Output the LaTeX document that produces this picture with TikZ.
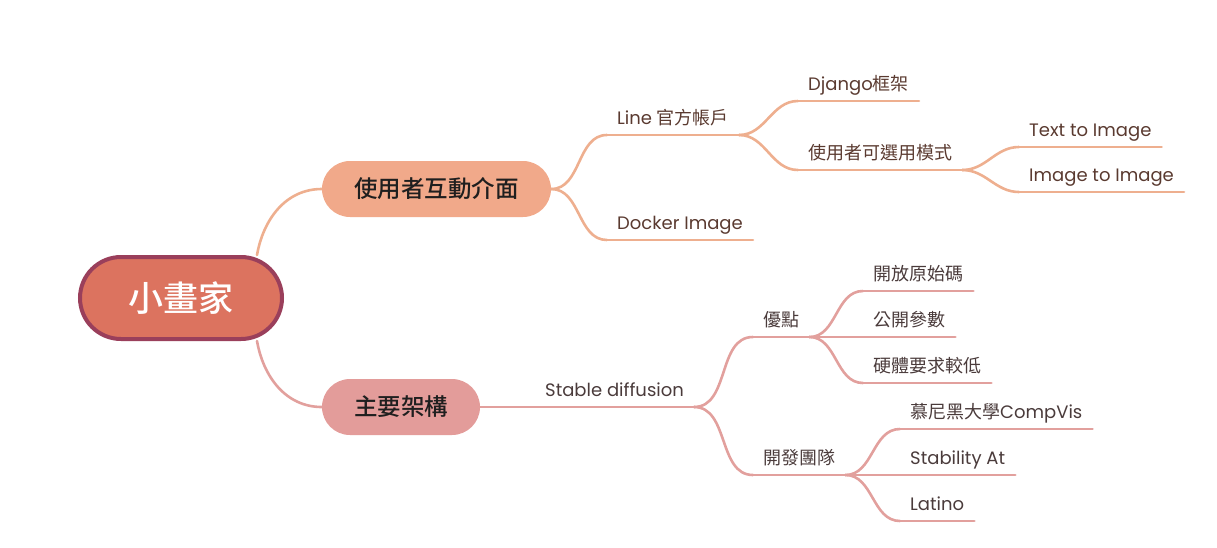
\documentclass[tikz,border=0pt]{standalone}
\usepackage{fontspec}
\setmainfont{Poppins}
\newfontfamily\cjk{Noto Sans CJK TC}
\newfontfamily\cjkmed{Noto Sans CJK TC Medium}
\newcommand{\zh}[1]{{\cjk #1}}
\usepackage{tikz}
\usetikzlibrary{backgrounds}

\definecolor{rootfill}{HTML}{DC735F}
\definecolor{rootline}{HTML}{9A3F5B}
\definecolor{uifill}{HTML}{F1A98A}
\definecolor{archfill}{HTML}{E39C9A}
\definecolor{lineA}{HTML}{EEAF8F}
\definecolor{lineB}{HTML}{E2A09D}
\definecolor{textA}{HTML}{5A3A30}
\definecolor{textB}{HTML}{4A3B3B}

\begin{document}
\begin{tikzpicture}[x=1pt,y=1pt,
    root/.style={rounded corners=41pt, minimum width=202pt, minimum height=82pt,
      fill=rootfill, draw=rootline, line width=4pt, text=white,
      font={\cjkmed\fontsize{35}{40}\selectfont}},
    topic/.style={rounded corners=28pt, minimum height=56pt, text=black!88,
      font={\cjkmed\fontsize{23.5}{28}\selectfont}},
    leaf/.style={anchor=south west, inner xsep=10pt, inner ysep=5.5pt,
      text height=14pt, text depth=5pt, font={\fontsize{18}{22}\selectfont}},
    linkA/.style={draw=lineA, line width=2.6pt, line cap=round},
    linkB/.style={draw=lineB, line width=2.6pt, line cap=round},
    branch/.style={out=0, in=180}]
  \useasboundingbox (0,0) rectangle (1217,-547);

  % main nodes
  \node[root] (painter) at (181,-298) {小畫家};
  \node[topic, fill=uifill, minimum width=229pt] (ui) at (436.5,-189) {使用者互動介面};
  \node[topic, fill=archfill, minimum width=158pt] (arch) at (401,-407) {主要架構};

  % interface branch
  \node[leaf, text=textA] (line) at (607,-135) {Line \zh{官方帳戶}};
  \node[leaf, text=textA] (docker) at (607,-240) {Docker Image};
  \node[leaf, text=textA] (django) at (798,-101) {Django\zh{框架}};
  \node[leaf, text=textA] (mode) at (798,-170) {\zh{使用者可選用模式}};
  \node[leaf, text=textA] (t2i) at (1019,-147) {Text to Image};
  \node[leaf, text=textA] (i2i) at (1019,-192) {Image to Image};

  % architecture branch
  \node[leaf, text=textB] (sd) at (535,-407) {Stable diffusion};
  \node[leaf, text=textB] (pros) at (753,-337) {\zh{優點}};
  \node[leaf, text=textB] (team) at (753,-475) {\zh{開發團隊}};
  \node[leaf, text=textB] (open) at (863,-291) {\zh{開放原始碼}};
  \node[leaf, text=textB] (params) at (863,-337) {\zh{公開參數}};
  \node[leaf, text=textB] (hw) at (863,-383) {\zh{硬體要求較低}};
  \node[leaf, text=textB] (lmu) at (900,-429) {\zh{慕尼黑大學}CompVis};
  \node[leaf, text=textB] (stab) at (900,-475) {Stability At};
  \node[leaf, text=textB] (latino) at (900,-521) {Latino};

  \begin{scope}[on background layer]
    \path[linkA] ([xshift=-27pt]painter.north east) edge[out=80, in=180] (ui.west);
    \path[linkB] ([xshift=-27pt]painter.south east) edge[out=-80, in=180] (arch.west);

    \path[linkA] (ui.east) edge[branch] (line.south west)
                           edge[branch] (docker.south west);
    \path[linkA] (line.south east) edge[branch] (django.south west)
                                   edge[branch] (mode.south west);
    \path[linkA] (mode.south east) edge[branch] (t2i.south west)
                                   edge[branch] (i2i.south west);

    \path[linkB] (arch.east) edge[branch] (sd.south west);
    \path[linkB] (sd.south east) edge[branch] (pros.south west)
                                 edge[branch] (team.south west);
    \path[linkB] (pros.south east) edge[branch] (open.south west)
                                   edge[branch] (params.south west)
                                   edge[branch] (hw.south west);
    \path[linkB] (team.south east) edge[branch] (lmu.south west)
                                   edge[branch] (stab.south west)
                                   edge[branch] (latino.south west);

    % underlines
    \foreach \n in {line,docker,django,mode,t2i,i2i}
      \draw[linkA] (\n.south west) -- (\n.south east);
    \foreach \n in {sd,pros,team,open,params,hw,lmu,stab,latino}
      \draw[linkB] (\n.south west) -- (\n.south east);
  \end{scope}
\end{tikzpicture}
\end{document}
